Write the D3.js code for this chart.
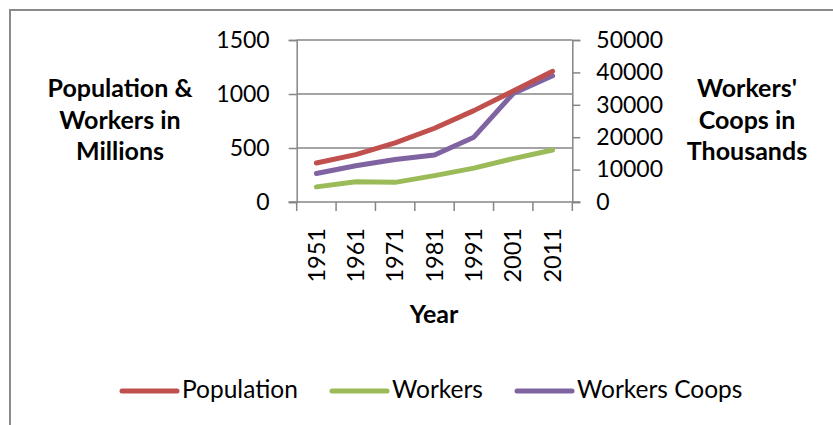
<!DOCTYPE html>
<html>
<head>
<meta charset="utf-8">
<script src="https://cdn.jsdelivr.net/npm/d3@7"></script>
<style>
  html, body { margin: 0; padding: 0; background: #fff; }
  svg { display: block; }
  text { font-family: Lato, "Noto Sans", sans-serif; fill: #000; }
</style>
</head>
<body>
<svg id="chart" width="833" height="425"></svg>
<script>
// ---- data ----
const years = ["1951", "1961", "1971", "1981", "1991", "2001", "2011"];
const population = [361, 439, 548, 683, 846, 1028, 1210];      // millions
const workers = [140, 188, 182, 244, 314, 402, 482];           // millions
const workersCoops = [8800, 11200, 13100, 14500, 20000, 33500, 38950]; // thousands
const leftTicks = [0, 500, 1000, 1500];
const rightTicks = [0, 10000, 20000, 30000, 40000, 50000];
const seriesNames = ["Population", "Workers", "Workers Coops"];
const seriesColors = ["#C0504D", "#9BBB59", "#8064A2"];

// ---- layout ----
const svg = d3.select("#chart");
const L = 296.7, R = 572.3, T = 40, B = 202;
const axisColor = "#868686";
const fsTick = 23, fsText = 24.5, fsBold = 25;

// outer frame
svg.append("rect").attr("x", 10).attr("y", 10).attr("width", 840).attr("height", 430)
  .attr("fill", "none").attr("stroke", "#8a8a8a").attr("stroke-width", 2);

const x = d3.scaleBand().domain(years).range([L, R]).padding(0);
const yL = d3.scaleLinear().domain([0, 1500]).range([B, T]);
const yR = d3.scaleLinear().domain([0, 50000]).range([B, T]);
const cx = d => x(d) + x.bandwidth() / 2;

// gridlines
svg.append("g").selectAll("line").data(leftTicks.filter(t => t > 0)).join("line")
  .attr("x1", L).attr("x2", R).attr("y1", d => yL(d)).attr("y2", d => yL(d))
  .attr("stroke", axisColor).attr("stroke-width", 1.5);

// left axis
const gl = svg.append("g").attr("transform", `translate(${L},0)`)
  .call(d3.axisLeft(yL).tickValues(leftTicks).tickSize(8).tickPadding(19).tickFormat(d3.format("d")));
gl.select(".domain").attr("stroke", axisColor).attr("stroke-width", 1.5);
gl.selectAll(".tick line").attr("stroke", axisColor).attr("stroke-width", 1.5);
gl.selectAll(".tick text").attr("font-size", fsTick).attr("font-family", "Lato").attr("fill", "#000");

// right axis
const gr = svg.append("g").attr("transform", `translate(${R},0)`)
  .call(d3.axisRight(yR).tickValues(rightTicks).tickSize(8).tickPadding(16).tickFormat(d3.format("d")));
gr.select(".domain").attr("stroke", axisColor).attr("stroke-width", 1.5);
gr.selectAll(".tick line").attr("stroke", axisColor).attr("stroke-width", 1.5);
gr.selectAll(".tick text").attr("font-size", fsTick).attr("font-family", "Lato").attr("fill", "#000");

// x axis
const gx = svg.append("g").attr("transform", `translate(0,${B})`);
gx.append("line").attr("x1", L - 8).attr("x2", R + 8).attr("y1", 0).attr("y2", 0)
  .attr("stroke", axisColor).attr("stroke-width", 1.5);
const bounds = years.map(d => x(d)).concat([R]);
gx.selectAll("line.tk").data(bounds).join("line").attr("class", "tk")
  .attr("x1", d => d).attr("x2", d => d).attr("y1", 0).attr("y2", 9)
  .attr("stroke", axisColor).attr("stroke-width", 1.5);
gx.selectAll("text.yr").data(years).join("text").attr("class", "yr")
  .attr("transform", d => `translate(${cx(d)},26) rotate(-90)`)
  .attr("text-anchor", "end").attr("dy", "0.35em")
  .attr("font-size", fsTick + 0.5).text(d => d);

// axis titles
svg.append("text").attr("x", 434).attr("y", 323).attr("text-anchor", "middle")
  .attr("font-size", fsBold).attr("font-weight", "bold").text("Year");
const leftTitle = ["Population &", "Workers in", "Millions"];
const rightTitle = ["Workers'", "Coops in", "Thousands"];
const titleBaselines = [97, 128.5, 160];
svg.append("g").selectAll("text").data(leftTitle).join("text")
  .attr("x", 120).attr("y", (d, i) => titleBaselines[i]).attr("text-anchor", "middle")
  .attr("font-size", fsBold).attr("font-weight", "bold").text(d => d);
svg.append("g").selectAll("text").data(rightTitle).join("text")
  .attr("x", 747).attr("y", (d, i) => titleBaselines[i]).attr("text-anchor", "middle")
  .attr("font-size", fsBold).attr("font-weight", "bold").text(d => d);

// lines
const lineL = d3.line().x((d, i) => cx(years[i])).y(d => yL(d));
const lineR = d3.line().x((d, i) => cx(years[i])).y(d => yR(d));
const series = [
  { vals: population, gen: lineL, color: seriesColors[0] },
  { vals: workers, gen: lineL, color: seriesColors[1] },
  { vals: workersCoops, gen: lineR, color: seriesColors[2] }
];
// draw order: workers, coops, population
[1, 2, 0].forEach(k => {
  const s = series[k];
  svg.append("path").attr("d", s.gen(s.vals)).attr("fill", "none")
    .attr("stroke", s.color).attr("stroke-width", 5)
    .attr("stroke-linecap", "round").attr("stroke-linejoin", "round");
});

// legend
const legendX = [122, 332, 517];
const lg = svg.append("g");
seriesNames.forEach((name, i) => {
  lg.append("line").attr("x1", legendX[i]).attr("x2", legendX[i] + 55)
    .attr("y1", 391).attr("y2", 391).attr("stroke", seriesColors[i])
    .attr("stroke-width", 5).attr("stroke-linecap", "round");
  lg.append("text").attr("x", legendX[i] + 60).attr("y", 398)
    .attr("font-size", fsText).text(name);
});
</script>
</body>
</html>
